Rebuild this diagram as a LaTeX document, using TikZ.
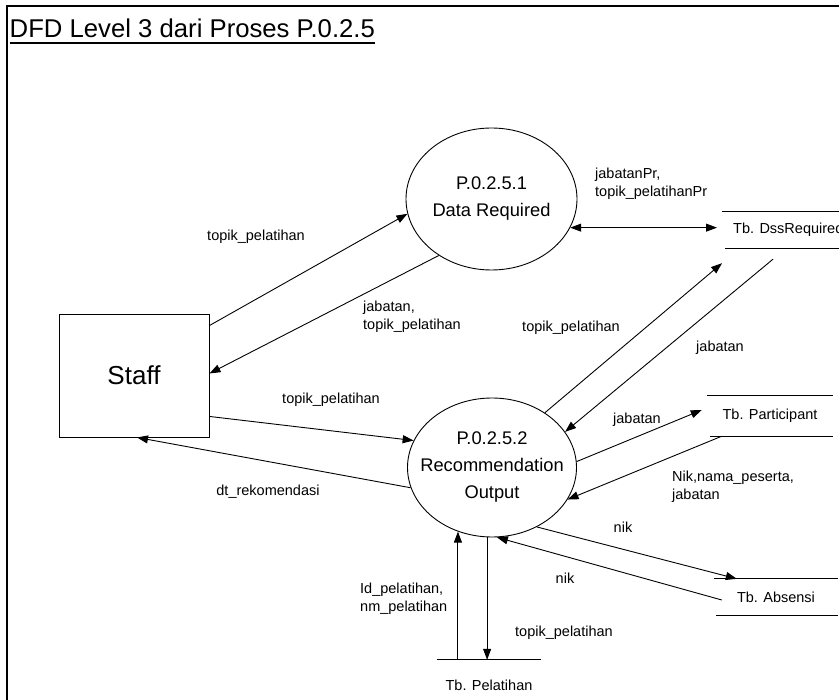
\documentclass[tikz,border=0pt]{standalone}
\usepackage{fontspec}
\setmainfont{Liberation Sans}
\usetikzlibrary{shapes.geometric,arrows.meta}
\newcommand{\flowtext}{\fontsize{14.5}{18}\selectfont}
\newcommand{\proctext}{\fontsize{18.3}{27}\selectfont}
\newcommand{\bigtext}{\fontsize{26}{30}\selectfont}

\begin{document}
\begin{tikzpicture}[x=1pt,y=-1pt,font=\flowtext,>={Triangle[length=11pt,width=8pt]},
  proc/.style={draw,ellipse,line width=0.9pt,inner sep=0pt,align=center,font=\proctext},
  entity/.style={draw,rectangle,line width=0.9pt,minimum width=150pt,minimum height=123pt,font=\bigtext},
  store/.style={inner sep=0pt},
  storeline/.style={line width=1pt},
  flow/.style={->,line width=0.9pt},
  lbl/.style={inner sep=0pt,align=left}]
\useasboundingbox (0,0) rectangle (839,700);
\clip (0,0) rectangle (839,700);

\draw[line width=2.3pt] (6.7,700) -- (6.7,6.3) -- (839,6.3);
\node[anchor=base west,inner sep=0pt,font=\fontsize{25.7}{30}\selectfont] (title) at (9.5,38) {DFD Level 3 dari Proses P.0.2.5};
\draw[line width=1.5pt] ([yshift=-5pt]title.base west) -- ([yshift=-5pt]title.base east);

\node[entity] (staff) at (134,375.5) {Staff};
\node[proc,minimum width=171pt,minimum height=142pt] (p1) at (491.5,199) {P.0.2.5.1\\Data Required};
\node[proc,inner xsep=-12pt,minimum width=169pt,minimum height=139pt] (p2) at (492,467.5) {P.0.2.5.2\\Recommendation\\Output};

\node[store,anchor=west,inner xsep=11pt,minimum height=36pt] (dss) at (722,230) {Tb. DssRequired};
\draw[storeline] (dss.north west) -- (dss.north east);
\draw[storeline] ([xshift=3pt]dss.south west) -- (dss.south east);
\node[store,minimum width=126pt,minimum height=40pt] (part) at (770,416) {Tb. Participant};
\draw[storeline] (part.north west) -- (part.north east);
\draw[storeline] ([xshift=3pt]part.south west) -- (part.south east);
\node[store,minimum width=124pt,minimum height=36pt] (abs) at (776,597) {Tb. Absensi};
\draw[storeline] (abs.north west) -- (abs.north east);
\draw[storeline] ([xshift=2pt]abs.south west) -- (abs.south east);
\node[store,minimum width=104pt,minimum height=50pt] (pel) at (489,685) {Tb. Pelatihan};
\draw[storeline] (pel.north west) -- (pel.north east);

\draw[flow] ([yshift=-12pt]staff.north east) -- (p1.190);
\draw[flow] (p1.227) -- ([yshift=2pt]staff.east);
\draw[flow] ([yshift=21pt]staff.south east) -- (p2.161);
\draw[flow] (p2.194) -- ([xshift=3pt]staff.south);
\draw[flow,<->,shorten >=5pt] (p1.340) -- (p1.340 -| dss.west);
\draw[flow] (p2.46) -- ([yshift=-15pt]dss.south west);
\draw[flow] ([shift={(51pt,-11pt)}]dss.south west) -- (p2.26);
\draw[flow] (p2.4) -- ([shift={(-5pt,6pt)}]part.west);
\draw[flow] ([xshift=15pt]part.south west) -- (p2.337);
\draw[flow] (p2.307) -- ([xshift=23pt]abs.north west);
\draw[flow] ([shift={(8pt,-3pt)}]abs.west) -- (p2.274);
\draw[flow] (p2.242 |- pel.north) -- (p2.242);
\draw[flow] (p2.266) -- (p2.266 |- pel.north);

\node[lbl] (topik1) at (256,237) {topik\_pelatihan};
\node[lbl,anchor=west] (jabtopik) at (363,317) {jabatan,\\topik\_pelatihan};
\node[lbl] (topik2) at (331,400) {topik\_pelatihan};
\node[lbl] (rekom) at (268,492) {dt\_rekomendasi};
\node[lbl,anchor=west] (jabpr) at (595,184) {jabatanPr,\\topik\_pelatihanPr};
\node[lbl] (topik3) at (571,328) {topik\_pelatihan};
\node[lbl] (jab1) at (720,348) {jabatan};
\node[lbl] (jab2) at (637,420) {jabatan};
\node[lbl,anchor=west] (peserta) at (672,487) {Nik,nama\_peserta,\\jabatan};
\node[lbl] (nik1) at (623,527) {nik};
\node[lbl] (nik2) at (565,578) {nik};
\node[lbl,anchor=west] (idpel) at (360,598.5) {Id\_pelatihan,\\nm\_pelatihan};
\node[lbl,anchor=west] (topik4) at (515,633) {topik\_pelatihan};
\end{tikzpicture}
\end{document}
